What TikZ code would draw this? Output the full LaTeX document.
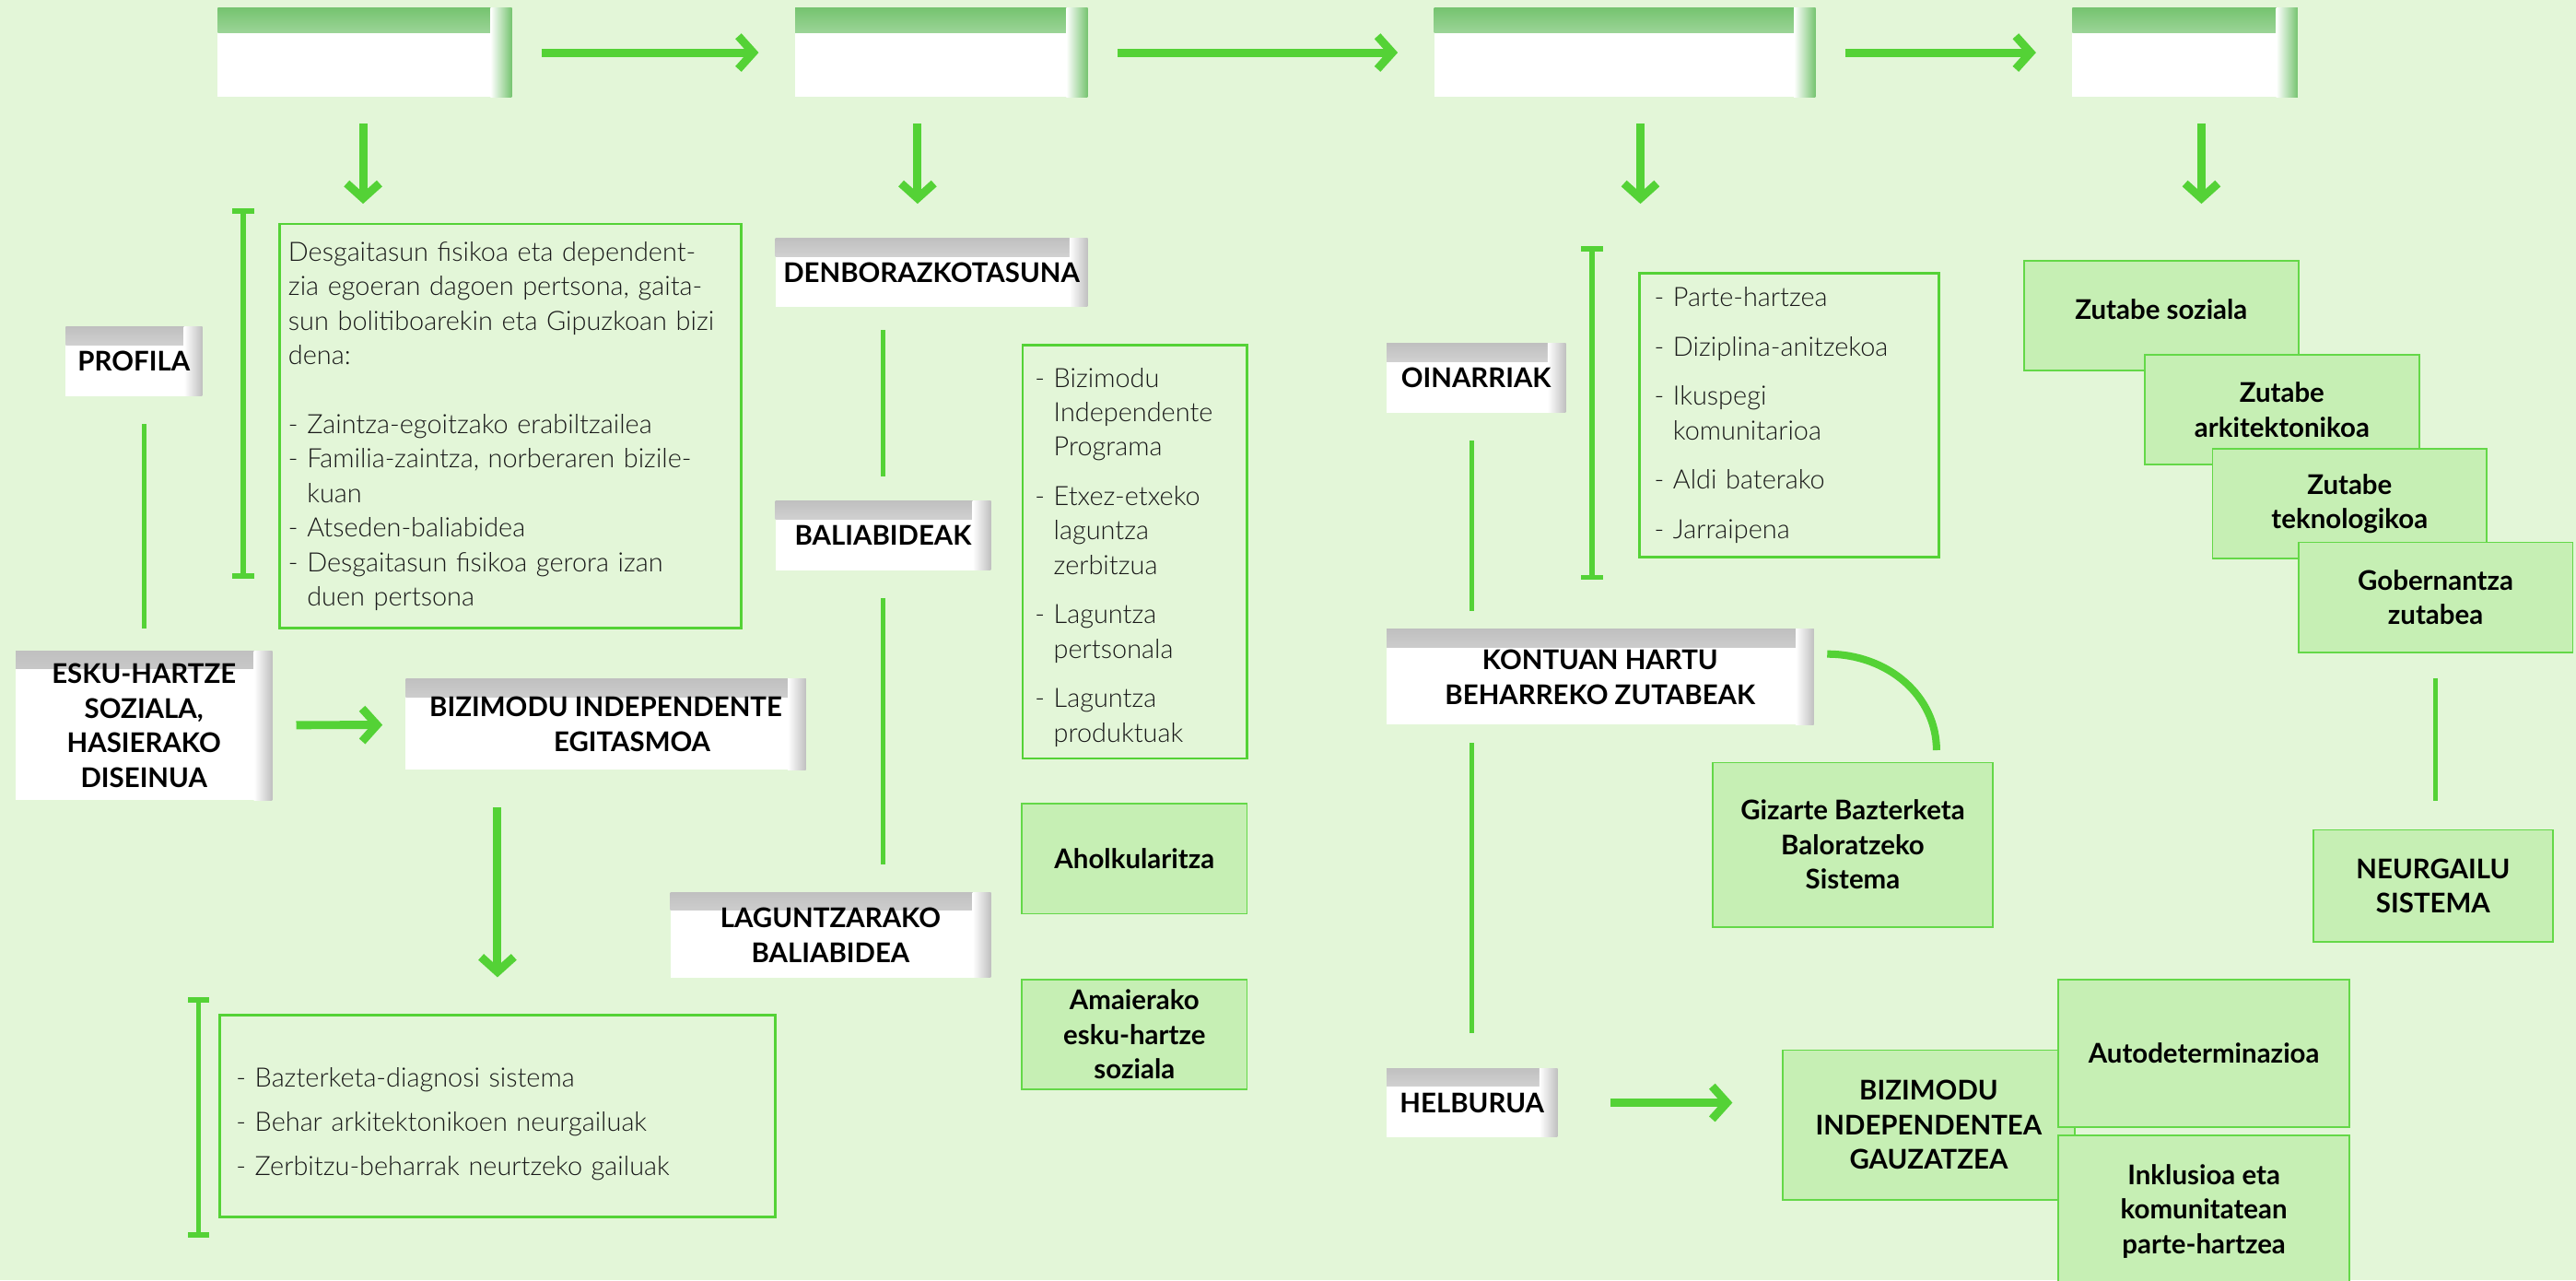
\documentclass[tikz,border=0pt]{standalone}
\usepackage{fontspec}
\setmainfont{Lato}[UprightFont={* Light},BoldFont={* Bold}]
\usetikzlibrary{arrows.meta}

\definecolor{bggreen}{RGB}{227,246,216}
\definecolor{linegreen}{RGB}{84,210,54}
\definecolor{boxgreen}{RGB}{198,239,180}
\definecolor{edgegreen}{RGB}{100,216,72}
\definecolor{shadegray}{RGB}{192,192,192}
\definecolor{shadegreen}{RGB}{118,196,112}

\newcommand{\bodyfont}{\fontsize{16.2}{21}\selectfont}
\newcommand{\headfont}{\fontsize{16.5}{21}\selectfont\bfseries}
\newcommand{\listind}{\phantom{- }}

\begin{document}
\begin{tikzpicture}[x=1pt, y=-1pt]

\tikzstyle{stagebox}=[fill=white, minimum height=54, inner sep=0pt, path picture={
    \shade[top color=shadegreen, bottom color=white] (path picture bounding box.north west) rectangle ([yshift=-15pt]path picture bounding box.north east);
    \shade[left color=white, right color=shadegreen] ([xshift=-13pt]path picture bounding box.north east) rectangle (path picture bounding box.south east);}]
\tikzstyle{headbox}=[fill=white, font=\headfont, align=center, inner sep=0pt, path picture={
    \shade[top color=shadegray, bottom color=white] (path picture bounding box.north west) rectangle ([yshift=-11pt]path picture bounding box.north east);
    \shade[left color=white, right color=shadegray] ([xshift=-11pt]path picture bounding box.north east) rectangle (path picture bounding box.south east);}]
\tikzstyle{greenbox}=[fill=boxgreen, draw=edgegreen, line width=1pt, font=\headfont, align=center, inner sep=0pt]
\tikzstyle{listbox}=[draw=linegreen, line width=1.6pt, font=\bodyfont, align=left, text=black!90]
\tikzstyle{arrow}=[-{Straight Barb[length=9pt,width=20pt]}, line width=5pt, draw=linegreen, shorten <=18pt, shorten >=22pt]
\tikzstyle{link}=[line width=3pt, draw=linegreen]
\tikzstyle{bracket}=[{Bar[width=13pt]}-{Bar[width=13pt]}, line width=3pt, draw=linegreen]

\useasboundingbox (0,0) rectangle (1568,779);
\fill [bggreen] (0,0) rectangle (1568,779);

\node (T1) [stagebox, minimum width=179] at (222,32) {};
\node (T2) [stagebox, minimum width=178] at (573,32) {};
\node (T3) [stagebox, minimum width=232] at (989,32) {};
\node (T4) [stagebox, minimum width=137] at (1330,32) {};

\coordinate (a1) at (221,124);
\coordinate (a2) at (558.5,124);
\coordinate (a3) at (998.5,124);
\coordinate (a4) at (1340,124);

\node (A) [listbox, minimum width=281, minimum height=246, text width=270, inner xsep=5.5] at (310.5,259.3) {Desgaitasun fisikoa eta dependent-\\ zia egoeran dagoen pertsona, gaita-\\ sun bolitiboarekin eta Gipuzkoan bizi\\ dena:\\[21pt]
 - Zaintza-egoitzako erabiltzailea\\ - Familia-zaintza, norberaren bizile-\\ \listind kuan\\ - Atseden-baliabidea\\ - Desgaitasun fisikoa gerora izan\\ \listind duen pertsona};
\draw [bracket] (148,127) -- (148,352);

\node (P) [headbox, minimum width=83, minimum height=42] at (81.5,220) {PROFILA};
\node (E) [headbox, minimum width=156, minimum height=91] at (87.6,441.5) {ESKU-HARTZE\\ SOZIALA,\\ HASIERAKO\\ DISEINUA};
\node (BI) [headbox, minimum width=243.5, minimum height=55.5] at (368.75,440.75) {BIZIMODU INDEPENDENTE\\ \hspace*{32pt}EGITASMOA};

\node (Z) [listbox, minimum width=338.4, minimum height=123, text width=318, inner xsep=10.2] at (302.8,679) {\rule{0pt}{22pt}- Bazterketa-diagnosi sistema\\[6pt] - Behar arkitektonikoen neurgailuak\\[6pt] - Zerbitzu-beharrak neurtzeko gailuak};
\draw [bracket] (121,607) -- (121,753);

\node (D) [headbox, minimum width=190, minimum height=41.6] at (567,165.8) {DENBORAZKOTASUNA};
\node (BA) [headbox, minimum width=131, minimum height=42] at (537.5,326) {BALIABIDEAK};
\node (LB) [headbox, minimum width=195, minimum height=52] at (505.5,569) {LAGUNTZARAKO\\ BALIABIDEA};

\node (R) [listbox, minimum width=136.5, minimum height=251.5, text width=121.5, inner xsep=7.5] at (690.75,335.75) {\rule{0pt}{18.5pt}- Bizimodu\\ \listind Independente\\ \listind Programa\\[9pt] - Etxez-etxeko\\ \listind laguntza\\ \listind zerbitzua\\[9pt] - Laguntza\\ \listind pertsonala\\[9pt] - Laguntza\\ \listind produktuak};
\node (AH) [greenbox, minimum width=137, minimum height=67] at (690.5,522.5) {Aholkularitza};
\node (AM) [greenbox, minimum width=137, minimum height=67] at (690.5,629.5) {Amaierako\\ esku-hartze\\ soziala};

\node (O) [headbox, minimum width=109, minimum height=42] at (898.5,230) {OINARRIAK};
\draw [bracket] (969,150) -- (969,353);
\node (L) [listbox, minimum width=182, minimum height=172.5, text width=164, inner xsep=9] at (1089,252.75) {- Parte-hartzea\\[9pt] - Diziplina-anitzekoa\\[9pt] - Ikuspegi\\ \listind komunitarioa\\[9pt] - Aldi baterako\\[9pt] - Jarraipena};

\node (K) [headbox, minimum width=260, minimum height=58] at (974,412) {KONTUAN HARTU\\ BEHARREKO ZUTABEAK};
\node (G) [greenbox, minimum width=170.5, minimum height=100] at (1127.75,514) {Gizarte Bazterketa\\ Baloratzeko\\ Sistema};
\node (H) [headbox, minimum width=104, minimum height=42] at (896,671) {HELBURUA};

\node (BIG) [greenbox, minimum width=178, minimum height=91] at (1174,684.5) {BIZIMODU\\ INDEPENDENTEA\\ GAUZATZEA};
\node (AU) [greenbox, minimum width=177, minimum height=90] at (1341.5,641) {Autodeterminazioa};
\node (IN) [greenbox, minimum width=177, minimum height=92] at (1341.5,737) {Inklusioa eta\\ komunitatean\\ parte-hartzea};

\node (ZS) [greenbox, minimum width=167, minimum height=67] at (1315.5,192) {Zutabe soziala\rule[-8pt]{0pt}{8pt}};
\node (ZA) [greenbox, minimum width=167, minimum height=67] at (1389,249.3) {Zutabe\\ arkitektonikoa};
\node (ZT) [greenbox, minimum width=167, minimum height=67] at (1430.2,306.5) {Zutabe\\ teknologikoa};
\node (ZG) [greenbox, minimum width=167, minimum height=67] at (1482.5,363.5) {Gobernantza\\ zutabea};
\node (N) [greenbox, minimum width=146, minimum height=68] at (1481,539) {NEURGAILU\\ SISTEMA};

\draw [arrow] (T1) -- (T2);
\draw [arrow] (T2) -- (T3);
\draw [arrow] (T3) -- (T4);
\draw [arrow, shorten <=16pt, shorten >=0pt] (T1.south -| a1) -- (a1);
\draw [arrow, shorten <=16pt, shorten >=0pt] (T2.south -| a2) -- (a2);
\draw [arrow, shorten <=16pt, shorten >=0pt] (T3.south -| a3) -- (a3);
\draw [arrow, shorten <=16pt, shorten >=0pt] (T4.south -| a4) -- (a4);

\draw [link, shorten <=17pt, shorten >=13.5pt] (P.south -| E.north) -- (E.north);
\draw [arrow, shorten <=14.5pt, shorten >=14pt] (E) -- (BI);
\draw [arrow, shorten <=22.5pt, shorten >=22pt] (BI.south -| Z.north) -- (Z.north);
\draw [link, shorten <=14pt, shorten >=15pt] (D.south -| BA.north) -- (BA.north);
\draw [link, shorten <=17pt, shorten >=17pt] (BA.south) -- (BA.south |- LB.north);
\draw [link, shorten <=17pt, shorten >=11pt] (O.south -| H.north) -- (K.north -| H.north);
\draw [link, shorten <=11pt, shorten >=21pt] (K.south -| H.north) -- (H.north);
\draw [arrow, shorten <=32pt, shorten >=30pt] (H.east) -- (H.east -| BIG.west);
\draw [link, line width=4.5pt] ([shift={(8,-14)}]K.east) .. controls +(37,0) and +(0,-33) .. ([shift={(51,-7)}]G.north);
\draw [link, shorten <=15pt, shorten >=17pt] (ZG.south) -- (ZG.south |- N.north);

\end{tikzpicture}
\end{document}
